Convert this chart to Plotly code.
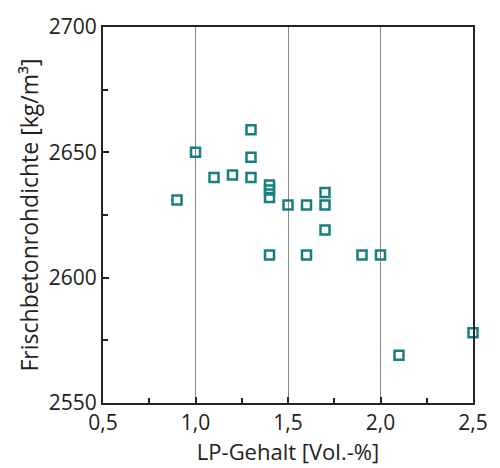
import plotly.graph_objects as go

lp_gehalt = [0.9, 1.0, 1.1, 1.2, 1.3, 1.3, 1.3, 1.4, 1.4, 1.4, 1.5, 1.6, 1.7, 1.7, 1.7,
             1.4, 1.6, 1.9, 2.0, 2.1, 2.5]
rohdichte = [2631, 2650, 2640, 2641, 2659, 2648, 2640, 2637, 2635, 2632, 2629, 2629, 2634, 2629, 2619,
             2609, 2609, 2609, 2609, 2569, 2578]

x_tickvals = [0.5, 1.0, 1.5, 2.0, 2.5]
x_ticktext = ["0,5", "1,0", "1,5", "2,0", "2,5"]
y_tickvals = [2550, 2600, 2650, 2700]

font_family = "Open Sans, Noto Sans, sans-serif"
teal = "#17807f"
ink = "#222222"

fig = go.Figure()
fig.add_trace(go.Scatter(
    x=lp_gehalt, y=rohdichte, mode="markers",
    marker=dict(symbol="square-open", size=9, color=teal, line=dict(width=2.5, color=teal)),
    showlegend=False, cliponaxis=False,
))

fig.update_layout(
    width=500, height=468,
    margin=dict(l=103, r=17, t=25, b=65),
    paper_bgcolor="white", plot_bgcolor="white",
    font=dict(family=font_family, size=21, color=ink),
)
fig.update_xaxes(
    range=[0.5, 2.5], tickvals=x_tickvals, ticktext=x_ticktext,
    showgrid=True, gridcolor="#8a8a8a", gridwidth=1,
    showline=True, linecolor=ink, linewidth=2, mirror=True,
    ticks="inside", ticklen=6, tickcolor=ink, tickwidth=1.5,
    minor=dict(tickvals=[0.75, 1.25, 1.75, 2.25], ticks="inside", ticklen=5, tickcolor=ink, showgrid=False),
    zeroline=False, ticklabeloverflow="allow",
    title=dict(text="LP-Gehalt [Vol.-%]", font=dict(size=22), standoff=2),
    tickfont=dict(size=21),
)
fig.update_yaxes(
    range=[2550, 2700], tickvals=y_tickvals,
    showgrid=False,
    showline=True, linecolor=ink, linewidth=2, mirror=True,
    ticks="inside", ticklen=6, tickcolor=ink, tickwidth=1.5,
    minor=dict(tickvals=[2575, 2625, 2675], ticks="inside", ticklen=5, tickcolor=ink, showgrid=False),
    zeroline=False,
    title=dict(text="Frischbetonrohdichte [kg/m³]", font=dict(size=23), standoff=4),
    tickfont=dict(size=21),
)

fig.write_html("out.html")
